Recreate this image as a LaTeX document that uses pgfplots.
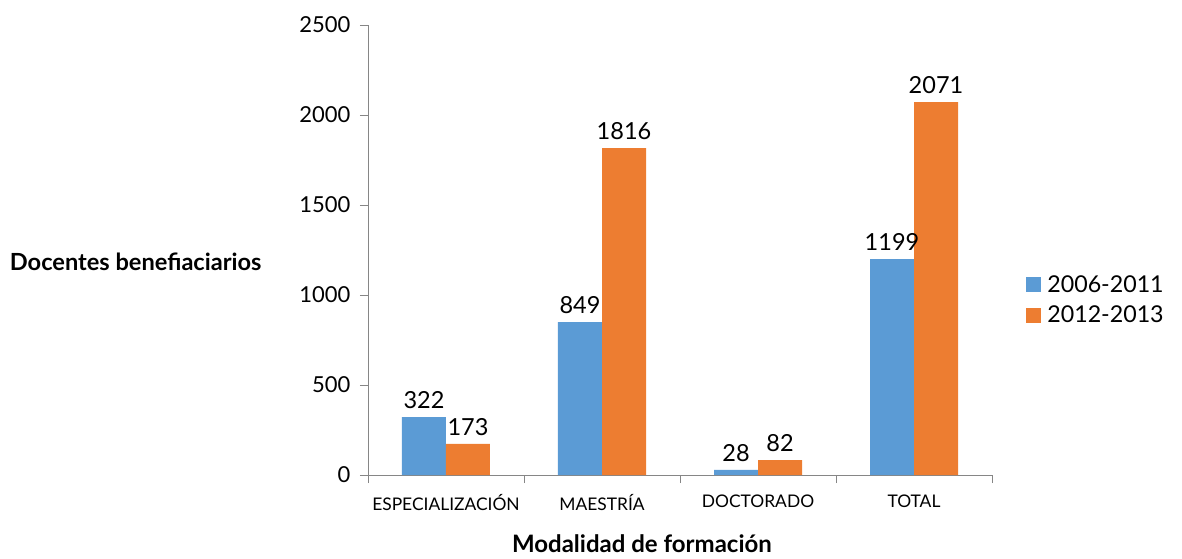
\documentclass[border=0pt]{standalone}
\usepackage{fontspec}
\setmainfont{Lato}
\usepackage{pgfplots}
\pgfplotsset{compat=1.18}
\definecolor{cblue}{HTML}{5B9BD5}
\definecolor{corange}{HTML}{ED7D31}
\definecolor{axgray}{HTML}{868686}
\begin{document}
\begin{tikzpicture}
\useasboundingbox (-368pt,-83pt) rectangle (814pt,475pt);
\begin{axis}[
  at={(0,0)}, anchor=south west,
  scale only axis, width=624pt, height=450pt,
  ybar=0pt, bar width=44pt,
  xmin=-0.5, xmax=3.5, ymin=0, ymax=2500,
  axis x line*=bottom, axis y line*=left,
  axis line style={axgray, line width=0.9pt},
  xtick={0,1,2,3},
  xticklabels={ESPECIALIZACIÓN, MAESTRÍA, DOCTORADO, TOTAL},
  minor xtick={-0.5,0.5,1.5,2.5,3.5},
  major x tick style={draw=none},
  minor tick length=8pt,
  minor x tick style={axgray, line width=0.9pt},
  ytick={0,500,1000,1500,2000,2500},
  y tick style={axgray, line width=0.9pt},
  major tick length=8pt,
  tick align=outside,
  /pgf/number format/assume math mode=true,
  /pgf/number format/1000 sep={},
  yticklabel style={font=\fontsize{22}{26}\selectfont, xshift=-6pt},
  xticklabel style={font=\fontsize{17.4}{20}\selectfont, yshift=-8pt},
  ylabel={\textbf{Docentes benefiaciarios}},
  ylabel style={rotate=-90, at={(axis description cs:-0.165,0.473)}, anchor=east, font=\fontsize{23.6}{28}\selectfont},
  xlabel={\textbf{Modalidad de formación}},
  xlabel style={at={(axis description cs:0.439,-0.152)}, anchor=center, font=\fontsize{24}{28}\selectfont},
  nodes near coords,
  nodes near coords style={font=\fontsize{23.5}{28}\selectfont, black, yshift=5pt, /pgf/number format/assume math mode=true},
  legend style={at={(axis description cs:1.05,0.389)}, anchor=west, draw=none, font=\fontsize{23.2}{28}\selectfont, row sep=8pt,
    nodes={inner xsep=6pt}},
  legend image code/.code={\fill[#1] (0cm,-7.5pt) rectangle (15pt,7.5pt);},
]
\addplot[fill=cblue, draw=none] coordinates {(0,322) (1,849) (2,28) (3,1199)};
\addplot[fill=corange, draw=none] coordinates {(0,173) (1,1816) (2,82) (3,2071)};
\legend{2006-2011, 2012-2013}
\end{axis}
\end{tikzpicture}
\end{document}
